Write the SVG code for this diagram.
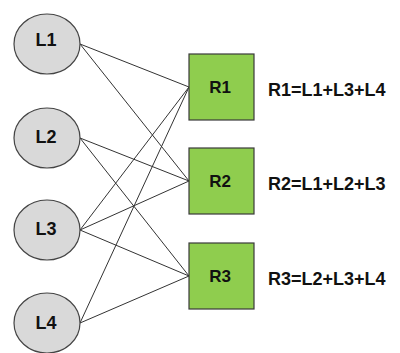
<svg xmlns="http://www.w3.org/2000/svg" width="400" height="353" viewBox="0 0 400 353">
<style>
.l{fill:#d9d9d9;stroke:#444;stroke-width:1.2}
.r{fill:#8fcd4e;stroke:#3a3a3a;stroke-width:1.2}
.t{font-family:"Liberation Sans",Arial,sans-serif;font-weight:bold;font-size:18px;fill:#111;text-anchor:middle}
.b{font-family:"Liberation Sans",Arial,sans-serif;font-weight:bold;font-size:17px;fill:#111;text-anchor:middle}
.e{font-family:"Liberation Sans",Arial,sans-serif;font-weight:bold;font-size:18px;fill:#111}
#edges line{stroke:#333;stroke-width:1}
</style>
<rect width="400" height="353" fill="#fff"/>
<g id="edges">
<line x1="80" y1="44" x2="189" y2="87"/>
<line x1="80" y1="44" x2="189" y2="181"/>
<line x1="80" y1="138" x2="189" y2="181"/>
<line x1="80" y1="138" x2="189" y2="276"/>
<line x1="80" y1="230" x2="189" y2="87"/>
<line x1="80" y1="230" x2="189" y2="181"/>
<line x1="80" y1="230" x2="189" y2="276"/>
<line x1="80" y1="323" x2="189" y2="87"/>
<line x1="80" y1="323" x2="189" y2="276"/>
</g>
<g id="L1"><ellipse class="l" cx="47" cy="44" rx="33" ry="30"/><text class="t" x="46" y="46">L1</text></g>
<g id="L2"><ellipse class="l" cx="47" cy="138" rx="33" ry="30"/><text class="t" x="46" y="143">L2</text></g>
<g id="L3"><ellipse class="l" cx="47" cy="230" rx="33" ry="30"/><text class="t" x="46" y="235">L3</text></g>
<g id="L4"><ellipse class="l" cx="47" cy="323" rx="33" ry="30"/><text class="t" x="46" y="329">L4</text></g>
<g id="R1"><rect class="r" x="189" y="54" width="65" height="66"/><text class="b" x="220" y="93">R1</text></g>
<g id="R2"><rect class="r" x="189" y="148" width="65" height="66"/><text class="b" x="220" y="187">R2</text></g>
<g id="R3"><rect class="r" x="189" y="243" width="65" height="66"/><text class="b" x="220" y="282">R3</text></g>
<text class="e" x="268" y="96">R1=L1+L3+L4</text>
<text class="e" x="268" y="190">R2=L1+L2+L3</text>
<text class="e" x="268" y="285">R3=L2+L3+L4</text>
</svg>
